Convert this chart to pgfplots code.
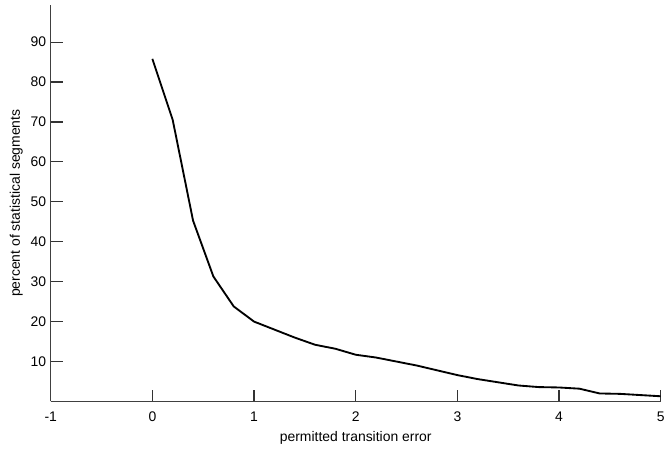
\documentclass[border=0pt]{standalone}
\usepackage{fontspec}
\setmainfont{Liberation Sans}
\usepackage{pgfplots}
\pgfplotsset{compat=1.18}

\begin{document}
\begin{tikzpicture}
  \begin{axis}[
      scale only axis,
      width=460pt, height=299pt,
      xmin=-1, xmax=5, ymin=0, ymax=99.3,
      axis x line*=bottom,
      axis y line*=left,
      axis line style={black!75, line width=0.7pt},
      tick align=inside,
      major tick length=9pt,
      major tick style={black!80, line width=0.9pt},
      xtick={-1,0,...,5},
      ytick={10,20,...,90},
      font=\fontsize{10.5}{12}\selectfont,
      /pgf/number format/assume math mode=true,
      xlabel={permitted transition error},
      ylabel={percent of statistical segments},
      xlabel style={yshift=-1pt},
      ylabel style={yshift=-1pt},
      x tick label style={yshift=-4pt},
    ]
    \addplot[black, line width=1.4pt, mark=none] coordinates {
      (0,85.8) (0.2,70.5) (0.4,45.3) (0.6,31.3) (0.8,23.8) (1.0,20.0)
      (1.2,18.0) (1.4,16.0) (1.6,14.2) (1.8,13.2) (2.0,11.7) (2.2,11.0)
      (2.4,10.0) (2.6,9.0) (2.8,7.8) (3.0,6.6) (3.2,5.6) (3.4,4.8)
      (3.6,4.0) (3.8,3.6) (4.0,3.5) (4.2,3.2) (4.4,2.0) (4.6,1.9)
      (4.8,1.6) (5.0,1.3)
    };
  \end{axis}
  \path (current axis.south west) ++(-38.25pt,-35.25pt) coordinate (bbl)
        (current axis.north east) ++(3.75pt,3.75pt) coordinate (bbr);
  \useasboundingbox (bbl) rectangle (bbr);
\end{tikzpicture}
\end{document}
